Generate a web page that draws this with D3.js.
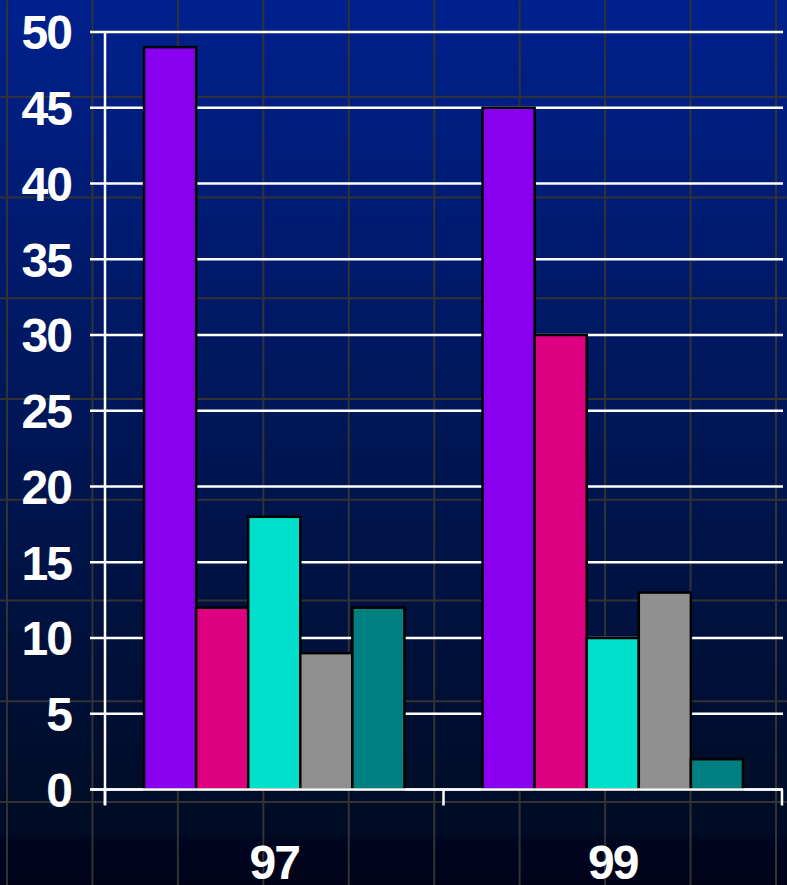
<!DOCTYPE html>
<html>
<head>
<meta charset="utf-8">
<script src="https://cdn.jsdelivr.net/npm/d3@7"></script>
<style>
  html, body { margin: 0; padding: 0; background: #000418; }
  svg { display: block; }
</style>
</head>
<body>
<script>
const categories = ['97', '99'];
const series = ['a', 'b', 'c', 'd', 'e'];
const values = {
  '97': [49, 12, 18, 9, 12],
  '99': [45, 30, 10, 13, 2]
};
const yTicks = [0, 5, 10, 15, 20, 25, 30, 35, 40, 45, 50];
const colors = ['#8800ee', '#dd0080', '#00e0cc', '#909090', '#008080'];

const width = 787;
const height = 885;
const margin = { top: 32, right: 5, bottom: 96, left: 105 };

const svg = d3.select('body')
  .append('svg')
  .attr('width', width)
  .attr('height', height);

// background gradient
const defs = svg.append('defs');
const grad = defs.append('linearGradient')
  .attr('id', 'bg')
  .attr('x1', 0).attr('y1', 0).attr('x2', 0).attr('y2', 1);
grad.append('stop').attr('offset', '0%').attr('stop-color', '#00218e');
grad.append('stop').attr('offset', '45%').attr('stop-color', '#00175a');
grad.append('stop').attr('offset', '94%').attr('stop-color', '#000c24');
grad.append('stop').attr('offset', '95.5%').attr('stop-color', '#00041e');
grad.append('stop').attr('offset', '100%').attr('stop-color', '#000318');
svg.append('rect')
  .attr('width', width)
  .attr('height', height)
  .attr('fill', 'url(#bg)');

// decorative background grid
const bgCols = d3.range(10);
const bgRows = d3.range(9);
const bgX = d3.scaleLinear().domain([0, 9]).range([7, 776]);
const bgY = d3.scaleLinear().domain([0, 8]).range([-4, 802]);
svg.append('g')
  .selectAll('line')
  .data(bgCols)
  .join('line')
  .attr('x1', d => bgX(d)).attr('x2', d => bgX(d))
  .attr('y1', 0).attr('y2', height)
  .attr('stroke', '#333333')
  .attr('stroke-width', 2);
svg.append('g')
  .selectAll('line')
  .data(bgRows)
  .join('line')
  .attr('x1', 0).attr('x2', width)
  .attr('y1', d => bgY(d)).attr('y2', d => bgY(d))
  .attr('stroke', '#333333')
  .attr('stroke-width', 2);

const chartWidth = width - margin.left - margin.right;
const chartHeight = height - margin.top - margin.bottom;
const plot = svg.append('g')
  .attr('transform', `translate(${margin.left}, ${margin.top})`);

const yScale = d3.scaleLinear()
  .domain([0, 50])
  .range([chartHeight + 0.5, 0]);

const x0 = d3.scaleBand()
  .domain(categories)
  .range([0, 677]);

const x1 = d3.scaleBand()
  .domain(series)
  .range([0, x0.bandwidth()])
  .paddingOuter(0.75);

// white gridlines with outward ticks
plot.append('g')
  .selectAll('line')
  .data(yTicks)
  .join('line')
  .attr('x1', -15)
  .attr('x2', 678)
  .attr('y1', d => yScale(d))
  .attr('y2', d => yScale(d))
  .attr('stroke', '#ffffff')
  .attr('stroke-width', 2.5);

// y labels
plot.append('g')
  .selectAll('text')
  .data(yTicks)
  .join('text')
  .attr('x', -34)
  .attr('y', d => yScale(d))
  .attr('dy', '0.36em')
  .attr('text-anchor', 'end')
  .attr('fill', '#ffffff')
  .attr('font-family', 'Liberation Sans, Arial, sans-serif')
  .attr('font-weight', 'bold')
  .attr('font-size', 48)
  .style('letter-spacing', '-2px')
  .text(d => d);

// bars
const groups = plot.append('g')
  .selectAll('g')
  .data(categories)
  .join('g')
  .attr('transform', d => `translate(${x0(d)}, 0)`);
groups.selectAll('rect')
  .data(d => values[d].map((v, i) => ({ key: series[i], value: v, i })))
  .join('rect')
  .attr('x', d => x1(d.key))
  .attr('y', d => yScale(d.value))
  .attr('width', x1.bandwidth())
  .attr('height', d => yScale(0) - yScale(d.value))
  .attr('fill', d => colors[d.i])
  .attr('stroke', '#000000')
  .attr('stroke-width', 2.5);

// y axis line
plot.append('line')
  .attr('x1', 0).attr('x2', 0)
  .attr('y1', 0).attr('y2', chartHeight + 16)
  .attr('stroke', '#ffffff')
  .attr('stroke-width', 2.5);

// x axis line and band ticks
plot.append('line')
  .attr('x1', -15).attr('x2', 678)
  .attr('y1', yScale(0)).attr('y2', yScale(0))
  .attr('stroke', '#ffffff')
  .attr('stroke-width', 2.5);
const bandEdges = categories.map(c => x0(c)).concat([x0.range()[1]]);
plot.append('g')
  .selectAll('line')
  .data(bandEdges)
  .join('line')
  .attr('x1', d => d).attr('x2', d => d)
  .attr('y1', yScale(0)).attr('y2', yScale(0) + 16)
  .attr('stroke', '#ffffff')
  .attr('stroke-width', 2.5);

// x labels
plot.append('g')
  .selectAll('text')
  .data(categories)
  .join('text')
  .attr('x', d => x0(d) + x0.bandwidth() / 2)
  .attr('y', yScale(0) + 72)
  .attr('dy', '0.36em')
  .attr('text-anchor', 'middle')
  .attr('fill', '#ffffff')
  .attr('font-family', 'Liberation Sans, Arial, sans-serif')
  .attr('font-weight', 'bold')
  .attr('font-size', 48)
  .style('letter-spacing', '-2px')
  .text(d => d);
</script>
</body>
</html>
